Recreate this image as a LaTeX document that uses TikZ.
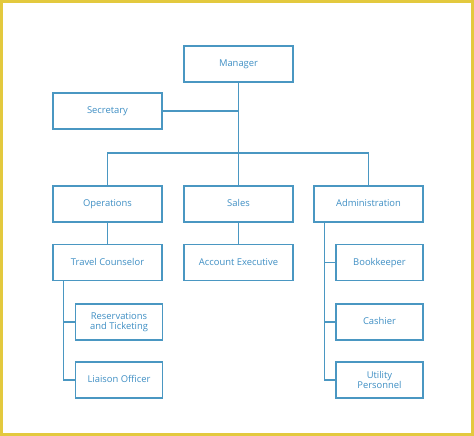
\documentclass[tikz,border=0pt]{standalone}
\usepackage{fontspec}
\setmainfont{Open Sans}
\definecolor{boxblue}{HTML}{4A97C2}
\definecolor{txtblue}{HTML}{3F8FC4}
\definecolor{frameyellow}{HTML}{E3C93E}
\begin{document}
\begin{tikzpicture}[x=1pt,y=-1pt,
  box/.style={draw=boxblue,line width=1.4pt,fill=white,text=txtblue,
    font=\fontsize{9.4}{10}\selectfont,align=center,inner sep=0pt,
    minimum height=36pt},
  one/.style={text height=7pt,text depth=2pt},
  wide/.style={box,minimum width=109pt},
  narrow/.style={box,minimum width=87pt},
  link/.style={draw=boxblue,line width=1.4pt}]
\useasboundingbox (0,0) rectangle (474,436);
\fill[white] (0,0) rectangle (474,436);
\draw[frameyellow,line width=3pt] (1.5,1.5) rectangle (472.5,434.5);
% nodes
\node[wide,one] (man) at (238.5,64) {Manager};
\node[wide,one] (sec) at (107.5,111) {Secretary};
\node[wide,one] (ops) at (107.5,204) {Operations};
\node[wide,one] (sal) at (238.5,204) {Sales};
\node[wide,one] (adm) at (368.5,204) {Administration};
\node[wide,one] (tc) at (107.5,262.5) {Travel Counselor};
\node[wide,one] (ae) at (238.5,262.5) {Account Executive};
\node[narrow] (res) at (119,322) {Reservations\\and Ticketing};
\node[narrow,one] (lia) at (119,380) {Liaison Officer};
\node[narrow,one] (bk) at (379.5,262.5) {Bookkeeper};
\node[narrow,one] (cas) at (379.5,322) {Cashier};
\node[narrow] (up) at (379.5,380) {Utility\\Personnel};
\coordinate (j) at (238.5,153);
\coordinate (tcx) at ([xshift=11pt]tc.south west);
\coordinate (admx) at ([xshift=11pt]adm.south west);
% connectors
\draw[link] (man.south) -- (sal.north);
\draw[link] (sec.east) -- (sec.east -| man.south);
\draw[link] (ops.north) |- (j) -| (adm.north);
\draw[link] (ops.south) -- (tc.north);
\draw[link] (sal.south) -- (ae.north);
\draw[link] (tcx) |- (lia.west);
\draw[link] (res.west) -- (res.west -| tcx);
\draw[link] (admx) |- (up.west);
\draw[link] (bk.west) -- (bk.west -| admx);
\draw[link] (cas.west) -- (cas.west -| admx);
\end{tikzpicture}
\end{document}
